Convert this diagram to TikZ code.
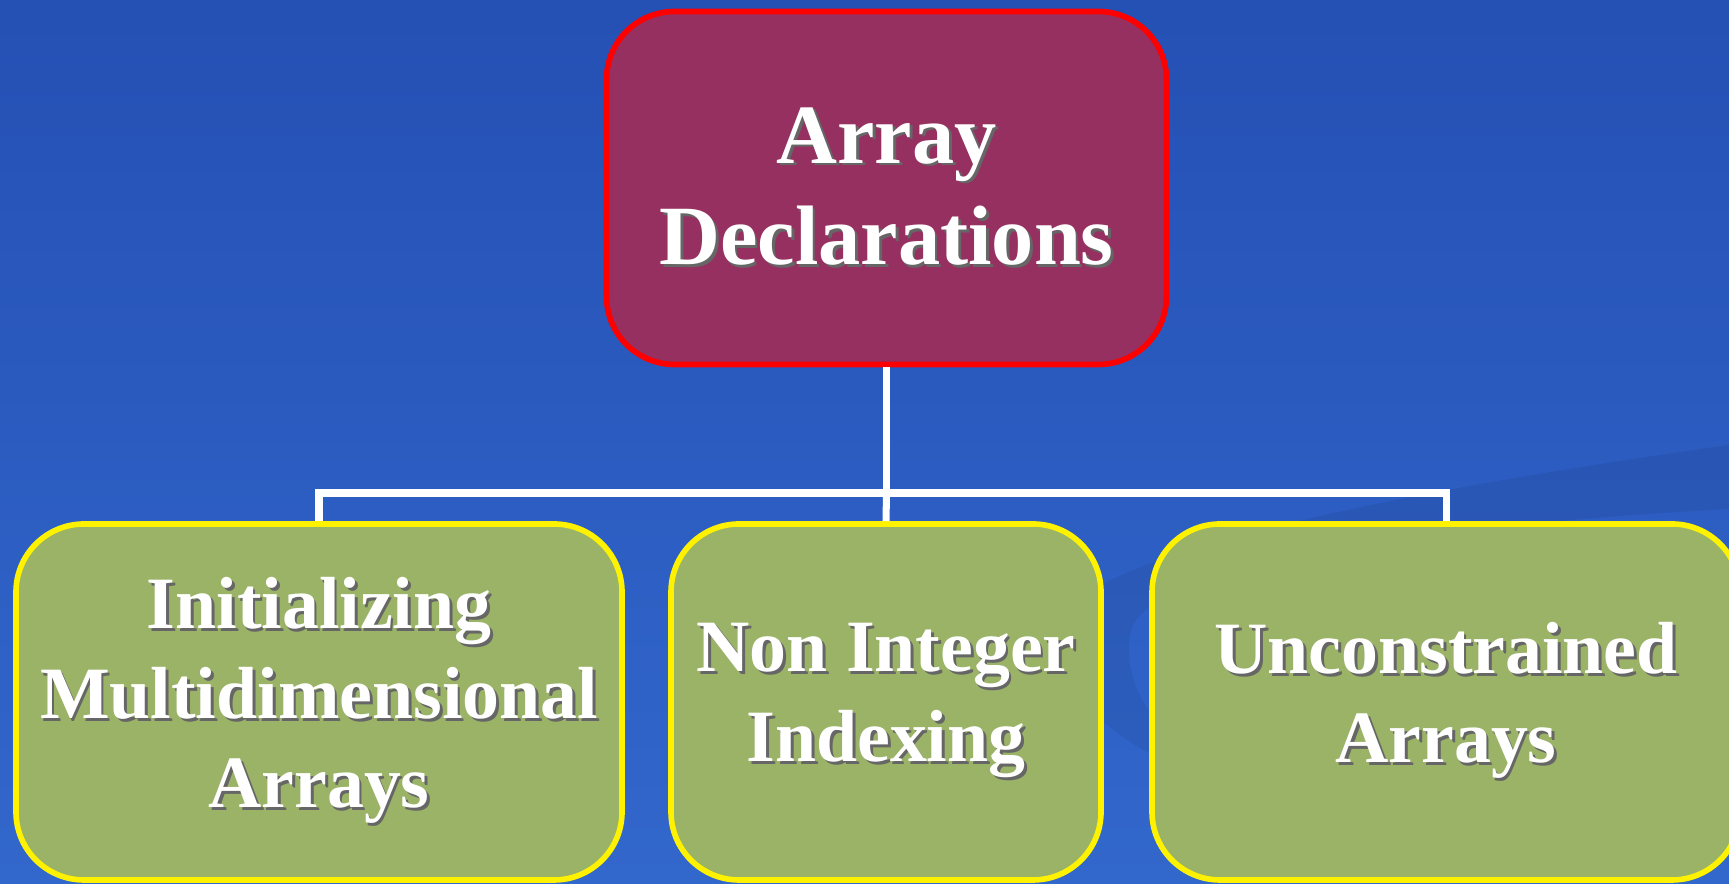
\documentclass[tikz,border=0pt]{standalone}
\usepackage{fontspec}
\setmainfont{Liberation Serif}

\definecolor{bgtop}{RGB}{37,80,180}
\definecolor{bgmid}{RGB}{50,103,204}
\definecolor{rootfill}{RGB}{150,48,96}
\definecolor{leaffill}{RGB}{154,179,102}

% white text with a small dark drop shadow
\newcommand\shd[1]{\leavevmode\rlap{\kern0.8pt\raisebox{-0.8pt}{\color{black!60}#1}}#1}

\tikzset{
	rootbox/.style={draw=red, fill=rootfill, line width=1.6pt, rounded corners=0.68cm,
		minimum width=5.6cm, minimum height=3.53cm, align=center, text=white,
		font=\fontsize{24}{29}\selectfont\bfseries},
	leafbox/.style={draw=yellow, fill=leaffill, line width=1.6pt, rounded corners=0.68cm,
		minimum height=3.56cm, align=center, text=white,
		font=\fontsize{21}{25.4}\selectfont\bfseries},
	conn/.style={white, line width=2pt},
}

\begin{document}
\begin{tikzpicture}
	%background
	\shade[top color=bgtop, middle color=bgmid, bottom color=bgmid] (0,0) rectangle (17.29,8.84);
	\useasboundingbox (0,0) rectangle (17.29,8.84);
	\fill[black, opacity=0.06] (17.29,4.39) .. controls (14.5,4.0) and (10.5,3.3) .. (10.55,2.5)
		.. controls (10.6,1.7) and (11.5,1.2) .. (12.5,0.9)
		.. controls (11.8,1.3) and (11.2,1.8) .. (11.3,2.5)
		.. controls (11.4,3.2) and (14.5,3.6) .. (17.29,3.75) -- cycle;
	
	%boxes
	\node[rootbox] (decl) at (8.865,6.96) {\shd{Array}\\\shd{Declarations}};
	\node[leafbox, minimum width=6.06cm] (init) at (3.19,1.82) {\shd{Initializing}\\\shd{Multidimensional}\\\shd{Arrays}};
	\node[leafbox, minimum width=4.30cm] (nonint) at (8.86,1.82) {\shd{Non Integer}\\\shd{Indexing}};
	\node[leafbox, minimum width=5.88cm] (uncon) at (14.46,1.82) {\shd{Unconstrained}\\\shd{Arrays}};
	
	%connectors
	\coordinate (bus) at (8.865,3.91);
	\draw[conn] (decl.south) -- (bus);
	\draw[conn] (init.north) |- (bus) -| (uncon.north);
	\draw[conn] (bus) -- (nonint.north);
\end{tikzpicture}
\end{document}
